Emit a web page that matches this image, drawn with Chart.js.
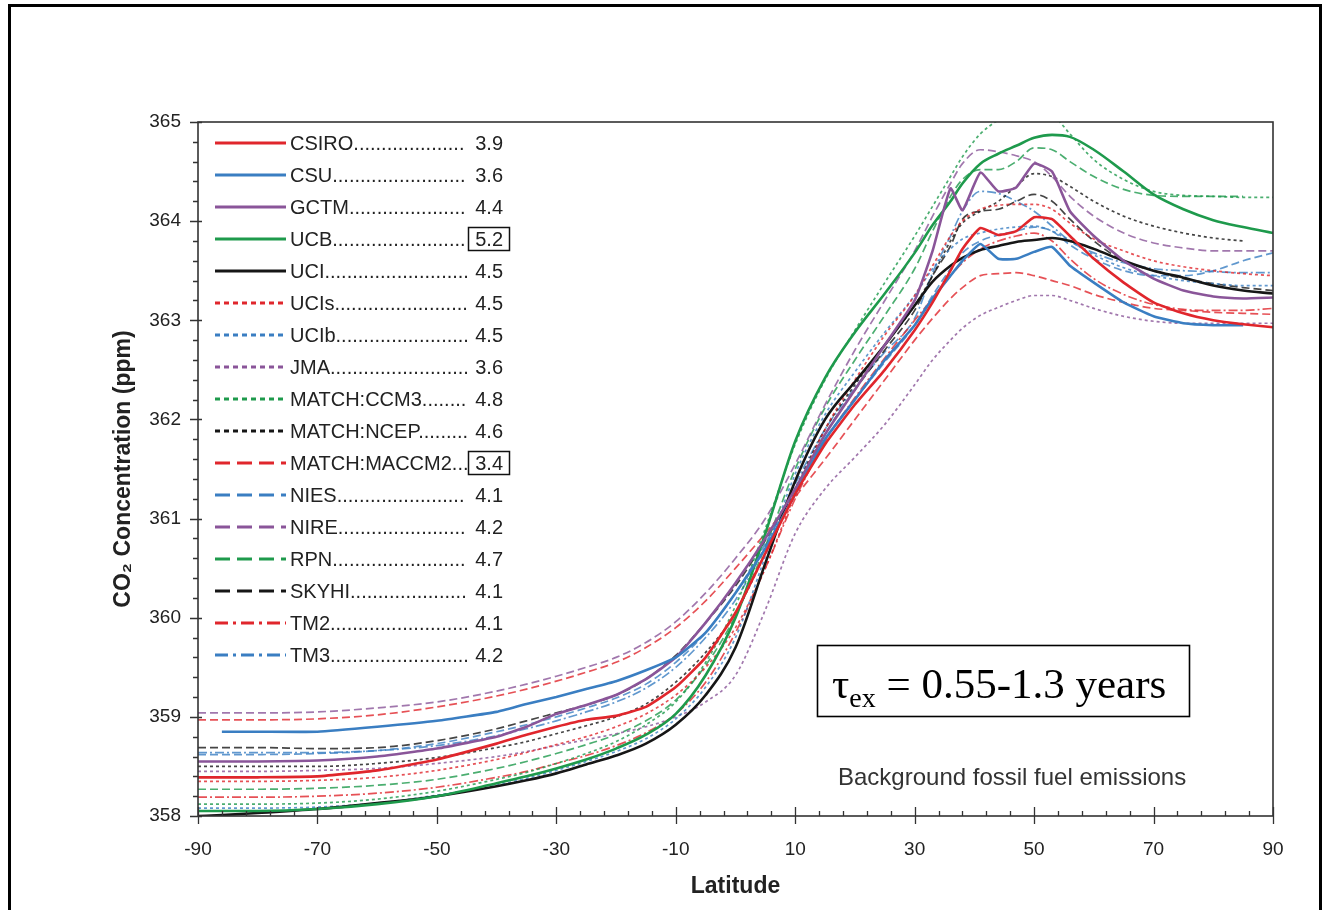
<!DOCTYPE html>
<html>
<head>
<meta charset="utf-8">
<script src="https://cdn.jsdelivr.net/npm/chart.js@4.4.0/dist/chart.umd.min.js"></script>
<style>
  html, body { margin: 0; background: #fff; }
  canvas { display: block; }
</style>
</head>
<body>
<canvas id="chart" width="1325" height="910"></canvas>
<script>
// latitude grid shared by all models (null = model has no value there)
const lat = [-90,-86,-80,-70,-60,-50,-40,-35,-30,-25,-20,-15,-10,-5,0,5,10,15,20,25,30,33,36,38,41,44,47,50,53,56,60,65,70,75,80,85,90];

// zonal mean CO2 (ppm) per model
const csiro  = [358.39,358.39,358.39,358.40,358.46,358.57,358.73,358.82,358.90,358.97,359.01,359.10,359.30,359.60,360.05,360.65,361.25,361.75,362.15,362.50,362.90,363.18,363.50,363.72,363.93,363.86,363.90,364.04,364.02,363.85,363.62,363.38,363.18,363.07,363.00,362.96,362.93];
const csu    = [null,358.85,358.85,358.85,358.90,358.96,359.05,359.13,359.20,359.28,359.36,359.47,359.60,359.85,360.25,360.70,361.25,361.80,362.20,362.60,362.95,363.22,363.45,363.60,363.77,363.62,363.62,363.69,363.74,363.55,363.38,363.18,363.04,362.97,362.95,362.95,null];
const gctm   = [358.55,358.55,358.55,358.56,358.60,358.68,358.80,358.90,359.03,359.12,359.22,359.38,359.60,359.95,360.35,360.80,361.30,361.85,362.30,362.75,363.20,363.70,364.33,364.11,364.49,364.30,364.34,364.58,364.50,364.10,363.85,363.60,363.42,363.30,363.24,363.22,363.23];
const ucb    = [358.05,358.05,358.05,358.07,358.12,358.20,358.33,358.40,358.48,358.57,358.68,358.82,359.03,359.42,360.00,360.85,361.78,362.42,362.88,363.27,363.68,363.96,364.20,364.38,364.58,364.68,364.76,364.84,364.87,364.85,364.72,364.50,364.27,364.12,364.01,363.94,363.88];
const uci    = [358.00,358.01,358.03,358.07,358.13,358.20,358.30,358.36,358.43,358.52,358.61,358.73,358.92,359.22,359.70,360.55,361.38,362.00,362.38,362.75,363.15,363.39,363.55,363.63,363.71,363.75,363.79,363.81,363.83,363.80,363.72,363.60,363.50,363.43,363.35,363.30,363.27];
const ucis   = [358.35,358.35,358.35,358.36,358.39,358.46,358.57,358.64,358.72,358.80,358.90,359.03,359.22,359.50,359.90,360.50,361.25,361.90,362.40,362.85,363.25,363.55,363.85,364.00,364.12,364.16,364.17,364.17,364.12,363.98,363.82,363.70,363.60,363.54,363.50,363.47,363.45];
const ucib   = [358.08,358.08,358.08,358.09,358.13,358.21,358.31,358.38,358.46,358.55,358.65,358.78,358.98,359.30,359.80,360.62,361.45,362.05,362.48,362.88,363.25,363.52,363.72,363.82,363.88,363.92,363.94,363.95,363.90,363.80,363.66,363.53,363.45,363.40,363.37,363.35,363.35];
const jma    = [358.45,358.45,358.45,358.46,358.48,358.53,358.60,358.65,358.71,358.77,358.83,358.90,359.00,359.15,359.42,360.08,360.85,361.30,361.62,361.95,362.35,362.60,362.80,362.92,363.05,363.13,363.20,363.25,363.25,363.20,363.12,363.04,362.99,362.97,362.97,362.97,362.97];
const ccm3   = [358.12,358.12,358.12,358.13,358.17,358.25,358.37,358.44,358.53,358.63,358.75,358.92,359.15,359.55,360.12,360.90,361.75,362.40,362.90,363.38,363.85,364.15,364.45,364.65,364.88,365.02,365.12,365.15,365.08,364.88,364.62,364.42,364.30,364.26,364.25,364.24,364.24];
const ncep   = [358.50,358.50,358.50,358.50,358.53,358.59,358.69,358.75,358.83,358.91,359.00,359.13,359.35,359.65,360.05,360.65,361.30,361.90,362.35,362.75,363.15,363.45,363.80,363.98,364.10,364.20,364.35,364.48,364.45,364.35,364.20,364.05,363.95,363.88,363.83,363.80,null];
const maccm2 = [358.97,358.97,358.97,358.98,359.02,359.10,359.21,359.28,359.36,359.45,359.55,359.70,359.90,360.17,360.50,360.85,361.22,361.60,362.00,362.40,362.80,363.02,363.22,363.33,363.45,363.47,363.48,363.45,363.40,363.35,363.26,363.18,363.12,363.10,363.08,363.07,363.06];
const nies   = [358.62,358.62,358.62,358.63,358.66,358.73,358.85,358.92,359.00,359.09,359.19,359.33,359.55,359.85,360.25,360.75,361.30,361.80,362.20,362.58,362.95,363.25,363.52,363.68,363.80,363.86,363.90,363.94,363.90,363.76,363.62,363.50,363.45,363.45,363.50,363.60,363.68];
const nire   = [359.04,359.04,359.04,359.05,359.09,359.15,359.26,359.33,359.41,359.50,359.60,359.75,359.96,360.25,360.60,361.00,361.55,362.15,362.70,363.20,363.70,364.05,364.38,364.58,364.72,364.70,364.66,364.60,364.45,364.25,364.05,363.88,363.78,363.73,363.70,363.70,363.70];
const rpn    = [358.27,358.27,358.27,358.28,358.31,358.37,358.48,358.55,358.63,358.72,358.82,358.96,359.17,359.52,360.02,360.72,361.50,362.12,362.60,363.05,363.52,363.90,364.25,364.42,364.52,364.52,364.60,364.74,364.72,364.60,364.45,364.32,364.26,364.25,364.25,364.25,null];
const skyhi  = [358.69,358.69,358.69,358.68,358.69,358.76,358.88,358.96,359.04,359.12,359.22,359.38,359.62,359.95,360.32,360.78,361.30,361.85,362.30,362.70,363.10,363.45,363.75,364.02,364.10,364.12,364.20,364.27,364.20,364.02,363.80,363.60,363.50,363.42,363.37,363.33,363.30];
const tm2    = [358.19,358.19,358.19,358.20,358.23,358.29,358.39,358.45,358.53,358.61,358.71,358.84,359.03,359.35,359.85,360.50,361.20,361.78,362.22,362.62,363.00,363.22,363.45,363.58,363.72,363.80,363.85,363.88,363.80,363.62,363.42,363.26,363.16,363.11,363.10,363.10,363.12];
const tm3    = [358.64,358.64,358.64,358.64,358.66,358.71,358.81,358.88,358.96,359.05,359.15,359.29,359.50,359.80,360.18,360.72,361.35,361.90,362.32,362.68,363.02,363.48,363.85,364.10,364.30,364.28,364.20,364.10,363.95,363.80,363.68,363.58,363.52,363.50,363.49,363.48,363.48];

const models    = ['CSIRO','CSU','GCTM','UCB','UCI','UCIs','UCIb','JMA','MATCH:CCM3','MATCH:NCEP','MATCH:MACCM2','NIES','NIRE','RPN','SKYHI','TM2','TM3'];
const gradients = ['3.9','3.6','4.4','5.2','4.5','4.5','4.5','3.6','4.8','4.6','3.4','4.1','4.2','4.7','4.1','4.1','4.2'];
const boxed     = ['UCB','MATCH:MACCM2'];
const series    = [csiro,csu,gctm,ucb,uci,ucis,ucib,jma,ccm3,ncep,maccm2,nies,nire,rpn,skyhi,tm2,tm3];
const kinds     = ['solid','solid','solid','solid','solid','dotted','dotted','dotted','dotted','dotted','dashed','dashed','dashed','dashed','dashed','dashdot','dashdot'];
const zigzag    = ['CSIRO','CSU','GCTM'];

const RED = '#e0262c', BLUE = '#3a7ec2', PURPLE = '#8a5599', GREEN = '#1e9a4c', BLACK = '#161616';
const colors = [RED,BLUE,PURPLE,GREEN,BLACK, RED,BLUE,PURPLE,GREEN,BLACK, RED,BLUE,PURPLE,GREEN,BLACK, RED,BLUE];

const plotDash   = { solid: [], dotted: [3, 3], dashed: [8, 4], dashdot: [9, 3, 2, 3] };
const legendDash = { solid: [], dotted: [5, 4], dashed: [15, 7], dashdot: [13, 5, 3, 5] };

const SANS = '"Liberation Sans", Arial, sans-serif';
const SERIF = '"Liberation Serif", "Times New Roman", serif';

function fade(hex, a) {
  const n = parseInt(hex.slice(1), 16);
  return `rgba(${n >> 16},${(n >> 8) & 255},${n & 255},${a})`;
}

const datasets = models.map((name, i) => ({
  label: name,
  data: lat.map((x, j) => ({ x: x, y: series[i][j] })),
  borderColor: kinds[i] === 'solid' ? colors[i] : fade(colors[i], 0.8),
  borderWidth: kinds[i] === 'solid' ? 2.6 : 1.7,
  borderDash: plotDash[kinds[i]],
  pointRadius: 0,
  cubicInterpolationMode: zigzag.includes(name) ? 'default' : 'monotone',
  tension: zigzag.includes(name) ? 0.15 : 0,
  spanGaps: false,
}));

// frame, ticks, legend and notes
const decorations = {
  id: 'decorations',
  beforeDraw(chart) {
    const ctx = chart.ctx;
    ctx.save();
    ctx.strokeStyle = '#000';
    ctx.lineWidth = 3;
    ctx.strokeRect(9.5, 5.5, 1311, 1000);
    ctx.restore();
  },
  afterDraw(chart) {
    const ctx = chart.ctx;
    const a = chart.chartArea;
    const xs = chart.scales.x, ys = chart.scales.y;
    ctx.save();

    // plot frame
    ctx.strokeStyle = '#333';
    ctx.lineWidth = 1.6;
    ctx.strokeRect(a.left, a.top, a.right - a.left, a.bottom - a.top);

    // ticks
    ctx.lineWidth = 1.3;
    ctx.beginPath();
    xs.ticks.forEach(t => {
      const px = Math.round(xs.getPixelForValue(t.value)) + 0.5;
      const major = (Math.round(t.value) + 90) % 20 === 0;
      if (major) { ctx.moveTo(px, a.bottom - 9); ctx.lineTo(px, a.bottom + 8); }
      else { ctx.moveTo(px, a.bottom - 5); ctx.lineTo(px, a.bottom); }
    });
    ys.ticks.forEach(t => {
      const py = Math.round(ys.getPixelForValue(t.value)) + 0.5;
      const major = Math.abs(t.value - Math.round(t.value)) < 1e-6;
      if (major) { ctx.moveTo(a.left - 8, py); ctx.lineTo(a.left + 4, py); }
      else { ctx.moveTo(a.left - 5, py); ctx.lineTo(a.left, py); }
    });
    ctx.stroke();

    // legend
    ctx.font = '20px ' + SANS;
    ctx.textBaseline = 'middle';
    models.forEach((name, i) => {
      const y = 143 + i * 32;
      ctx.strokeStyle = colors[i];
      ctx.lineWidth = 3;
      ctx.setLineDash(legendDash[kinds[i]]);
      ctx.beginPath();
      ctx.moveTo(215, y); ctx.lineTo(286, y);
      ctx.stroke();
      ctx.setLineDash([]);
      ctx.fillStyle = '#222';
      ctx.textAlign = 'left';
      let label = name;
      while (ctx.measureText(label + '.').width < 179) label += '.';
      ctx.fillText(label, 290, y + 1);
      ctx.textAlign = 'right';
      ctx.fillText(gradients[i], 503, y + 1);
      if (boxed.includes(name)) {
        ctx.strokeStyle = '#111';
        ctx.lineWidth = 1.5;
        ctx.strokeRect(468.5, y - 11.5, 41, 23);
      }
    });

    // residence time box
    ctx.strokeStyle = '#000';
    ctx.lineWidth = 1.6;
    ctx.strokeRect(817.5, 645.5, 372, 71);
    ctx.fillStyle = '#000';
    ctx.textAlign = 'left';
    ctx.textBaseline = 'alphabetic';
    ctx.font = '43px ' + SERIF;
    ctx.fillText('\u03c4', 832, 698);
    const tw = ctx.measureText('\u03c4').width;
    ctx.font = '28px ' + SERIF;
    ctx.fillText('ex', 832 + tw, 707);
    const ew = ctx.measureText('ex').width;
    ctx.font = '43px ' + SERIF;
    ctx.fillText(' = 0.55-1.3 years', 832 + tw + ew, 698);

    ctx.fillStyle = '#333';
    ctx.font = '24px ' + SANS;
    ctx.textBaseline = 'middle';
    ctx.fillText('Background fossil fuel emissions', 838, 778);
    ctx.restore();
  }
};

new Chart(document.getElementById('chart'), {
  type: 'line',
  data: { datasets: datasets },
  options: {
    responsive: false,
    animation: false,
    devicePixelRatio: 1,
    layout: { padding: { left: 110, top: 122, right: 52, bottom: 10 } },
    plugins: { legend: { display: false }, tooltip: { enabled: false } },
    scales: {
      x: {
        type: 'linear',
        min: -90, max: 90,
        grid: { display: false },
        border: { display: false },
        ticks: {
          stepSize: 4,
          autoSkip: false,
          maxRotation: 0,
          padding: 14,
          color: '#222',
          font: { family: SANS, size: 19 },
          callback: v => ((Math.round(v) + 90) % 20 === 0 ? String(Math.round(v)) : ''),
        },
        title: {
          display: true,
          text: 'Latitude',
          color: '#222',
          padding: 0,
          font: { family: SANS, size: 23, weight: 'bold' },
        },
        afterFit: s => { s.height = 84; },
      },
      y: {
        min: 358, max: 365,
        grid: { display: false },
        border: { display: false },
        ticks: {
          stepSize: 0.2,
          autoSkip: false,
          padding: 9,
          color: '#222',
          font: { family: SANS, size: 19 },
          callback: v => (Math.abs(v - Math.round(v)) < 1e-6 ? String(Math.round(v)) : ''),
        },
        title: {
          display: true,
          text: 'CO\u2082 Concentration (ppm)',
          color: '#222',
          padding: 0,
          font: { family: SANS, size: 23, weight: 'bold' },
        },
        afterFit: s => { s.width = 88; },
      },
    },
  },
  plugins: [decorations],
});
</script>
</body>
</html>
